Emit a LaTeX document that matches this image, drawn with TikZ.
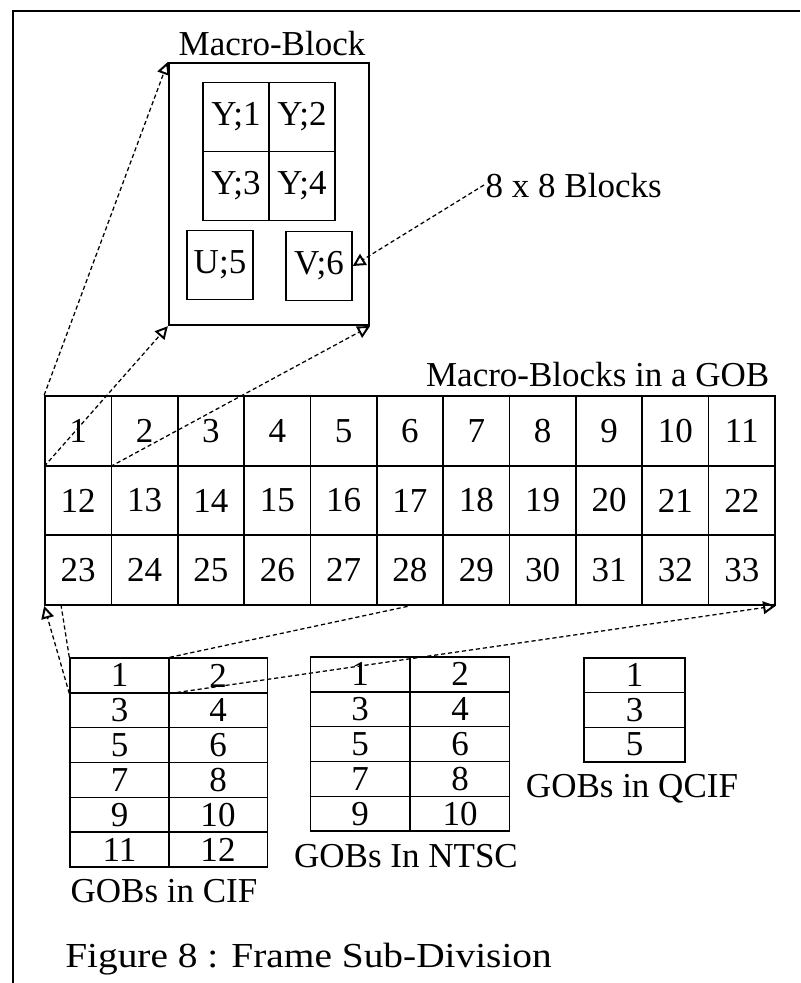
\documentclass[tikz,border=0pt]{standalone}
\usepackage{fontspec}
\setmainfont{Liberation Serif}
\newfontfamily\capfamily{Liberation Serif}[FakeStretch=1.12]
\usepackage{tikz}
\usetikzlibrary{arrows.meta, calc}
\newcommand{\lblfont}{\fontsize{24.9}{30}\selectfont}
\newcommand{\capfont}{\capfamily\fontsize{25}{30}\selectfont}
\tikzset{
  mbbox/.style={rectangle, draw, line width=1.6pt,
    minimum width=50mm, minimum height=65.5mm, inner sep=0pt},
  yblk/.style={rectangle, draw, line width=1pt,
    minimum width=16.5mm, minimum height=17.25mm, inner sep=0pt, font=\lblfont},
  mbcell/.style={rectangle, draw, line width=1.2pt,
    minimum width=16.59mm, minimum height=17.42mm, inner sep=0pt, font=\lblfont},
  gobcell/.style={rectangle, draw, line width=1pt,
    minimum width=24.75mm, minimum height=8.7mm, inner sep=0pt, font=\lblfont},
  lbl/.style={font=\lblfont, inner sep=1pt},
  capnode/.style={font=\capfont, inner sep=0pt},
  zoomarrow/.style={line width=0.9pt, dash pattern=on 3pt off 2pt,
    -{Triangle[open, length=9pt, width=9pt, line width=1.4pt]}},
  zoomline/.style={line width=0.9pt, dash pattern=on 3pt off 2pt},
  frame/.style={line width=1.3pt}
}

\begin{document}
\begin{tikzpicture}[x=0.25mm, y=-0.25mm]
  \useasboundingbox (0,0) rectangle (800,983);
  \draw[frame] (13,983) -- (13,11) -- (800,11);
  % macro-block
  \node[mbbox] (mb) at (269,194) {};
  \node[lbl, anchor=base] (mbtitle) at (272,55) {Macro-Block};
  \node[yblk] (y1) at (236,117) {Y;1};
  \node[yblk] (y2) at (302,117) {Y;2};
  \node[yblk] (y3) at (236,186) {Y;3};
  \node[yblk] (y4) at (302,186) {Y;4};
  \node[yblk] (u5) at (220,265) {U;5};
  \node[yblk] (v6) at (319,266) {V;6};
  \node[lbl, anchor=base west] (blk8) at (484,197) {8 x 8 Blocks};
  % macro-blocks in a GOB
  \node[lbl, anchor=base east] (gobtitle) at (771,386) {Macro-Blocks in a GOB};
  \foreach \r in {0,1,2}{
    \foreach \c in {1,...,11}{
      \pgfmathtruncatemacro{\n}{\r*11+\c}
      \node[mbcell] (g\n) at ({45+(\c-0.5)*66.36},{396+(\r+0.5)*69.67}) {\n};
    }
  }
  % GOB tables
  \foreach \r in {1,...,6}{
    \pgfmathtruncatemacro{\lft}{2*\r-1}
    \pgfmathtruncatemacro{\rgt}{2*\r}
    \node[gobcell] (c\lft) at (119.5,{658+(\r-0.5)*34.83}) {\lft};
    \node[gobcell] (c\rgt) at (218,{658+(\r-0.5)*34.83}) {\rgt};
  }
  \foreach \r in {1,...,5}{
    \pgfmathtruncatemacro{\lft}{2*\r-1}
    \pgfmathtruncatemacro{\rgt}{2*\r}
    \node[gobcell] (n\lft) at (360,{657+(\r-0.5)*34.8}) {\lft};
    \node[gobcell] (n\rgt) at (460,{657+(\r-0.5)*34.8}) {\rgt};
  }
  \foreach \r/\q in {1/1, 2/3, 3/5}
    \node[gobcell, minimum width=25.25mm] (q\q) at (634.5,{658+(\r-0.5)*34.67}) {\q};
  \node[lbl, anchor=base] (ciftitle) at (164,902) {GOBs in CIF};
  \node[lbl, anchor=base] (ntsctitle) at (406,867) {GOBs In NTSC};
  \node[lbl, anchor=base] (qciftitle) at (632,797) {GOBs in QCIF};
  % zoom lines
  \draw[zoomarrow] (g1.north west) -- (mb.north west);
  \draw[zoomarrow] (g1.south west) -- (mb.south west);
  \draw[zoomarrow] (g2.south west) -- (mb.south east);
  \draw[zoomarrow] (blk8.west) -- (v6.east);
  \draw[zoomarrow] (c1.south west) -- (g23.south west);
  \draw[zoomline] (c1.north west) -- ($(g23.south west)!0.25!(g23.south east)$);
  \draw[zoomline] (c1.north east) -- (g28.south);
  \draw[zoomarrow] (c1.south east) -- (g33.south east);
  \node[capnode, anchor=base west] (caption) at (65,967) {Figure 8 : Frame Sub-Division};
\end{tikzpicture}
\end{document}
